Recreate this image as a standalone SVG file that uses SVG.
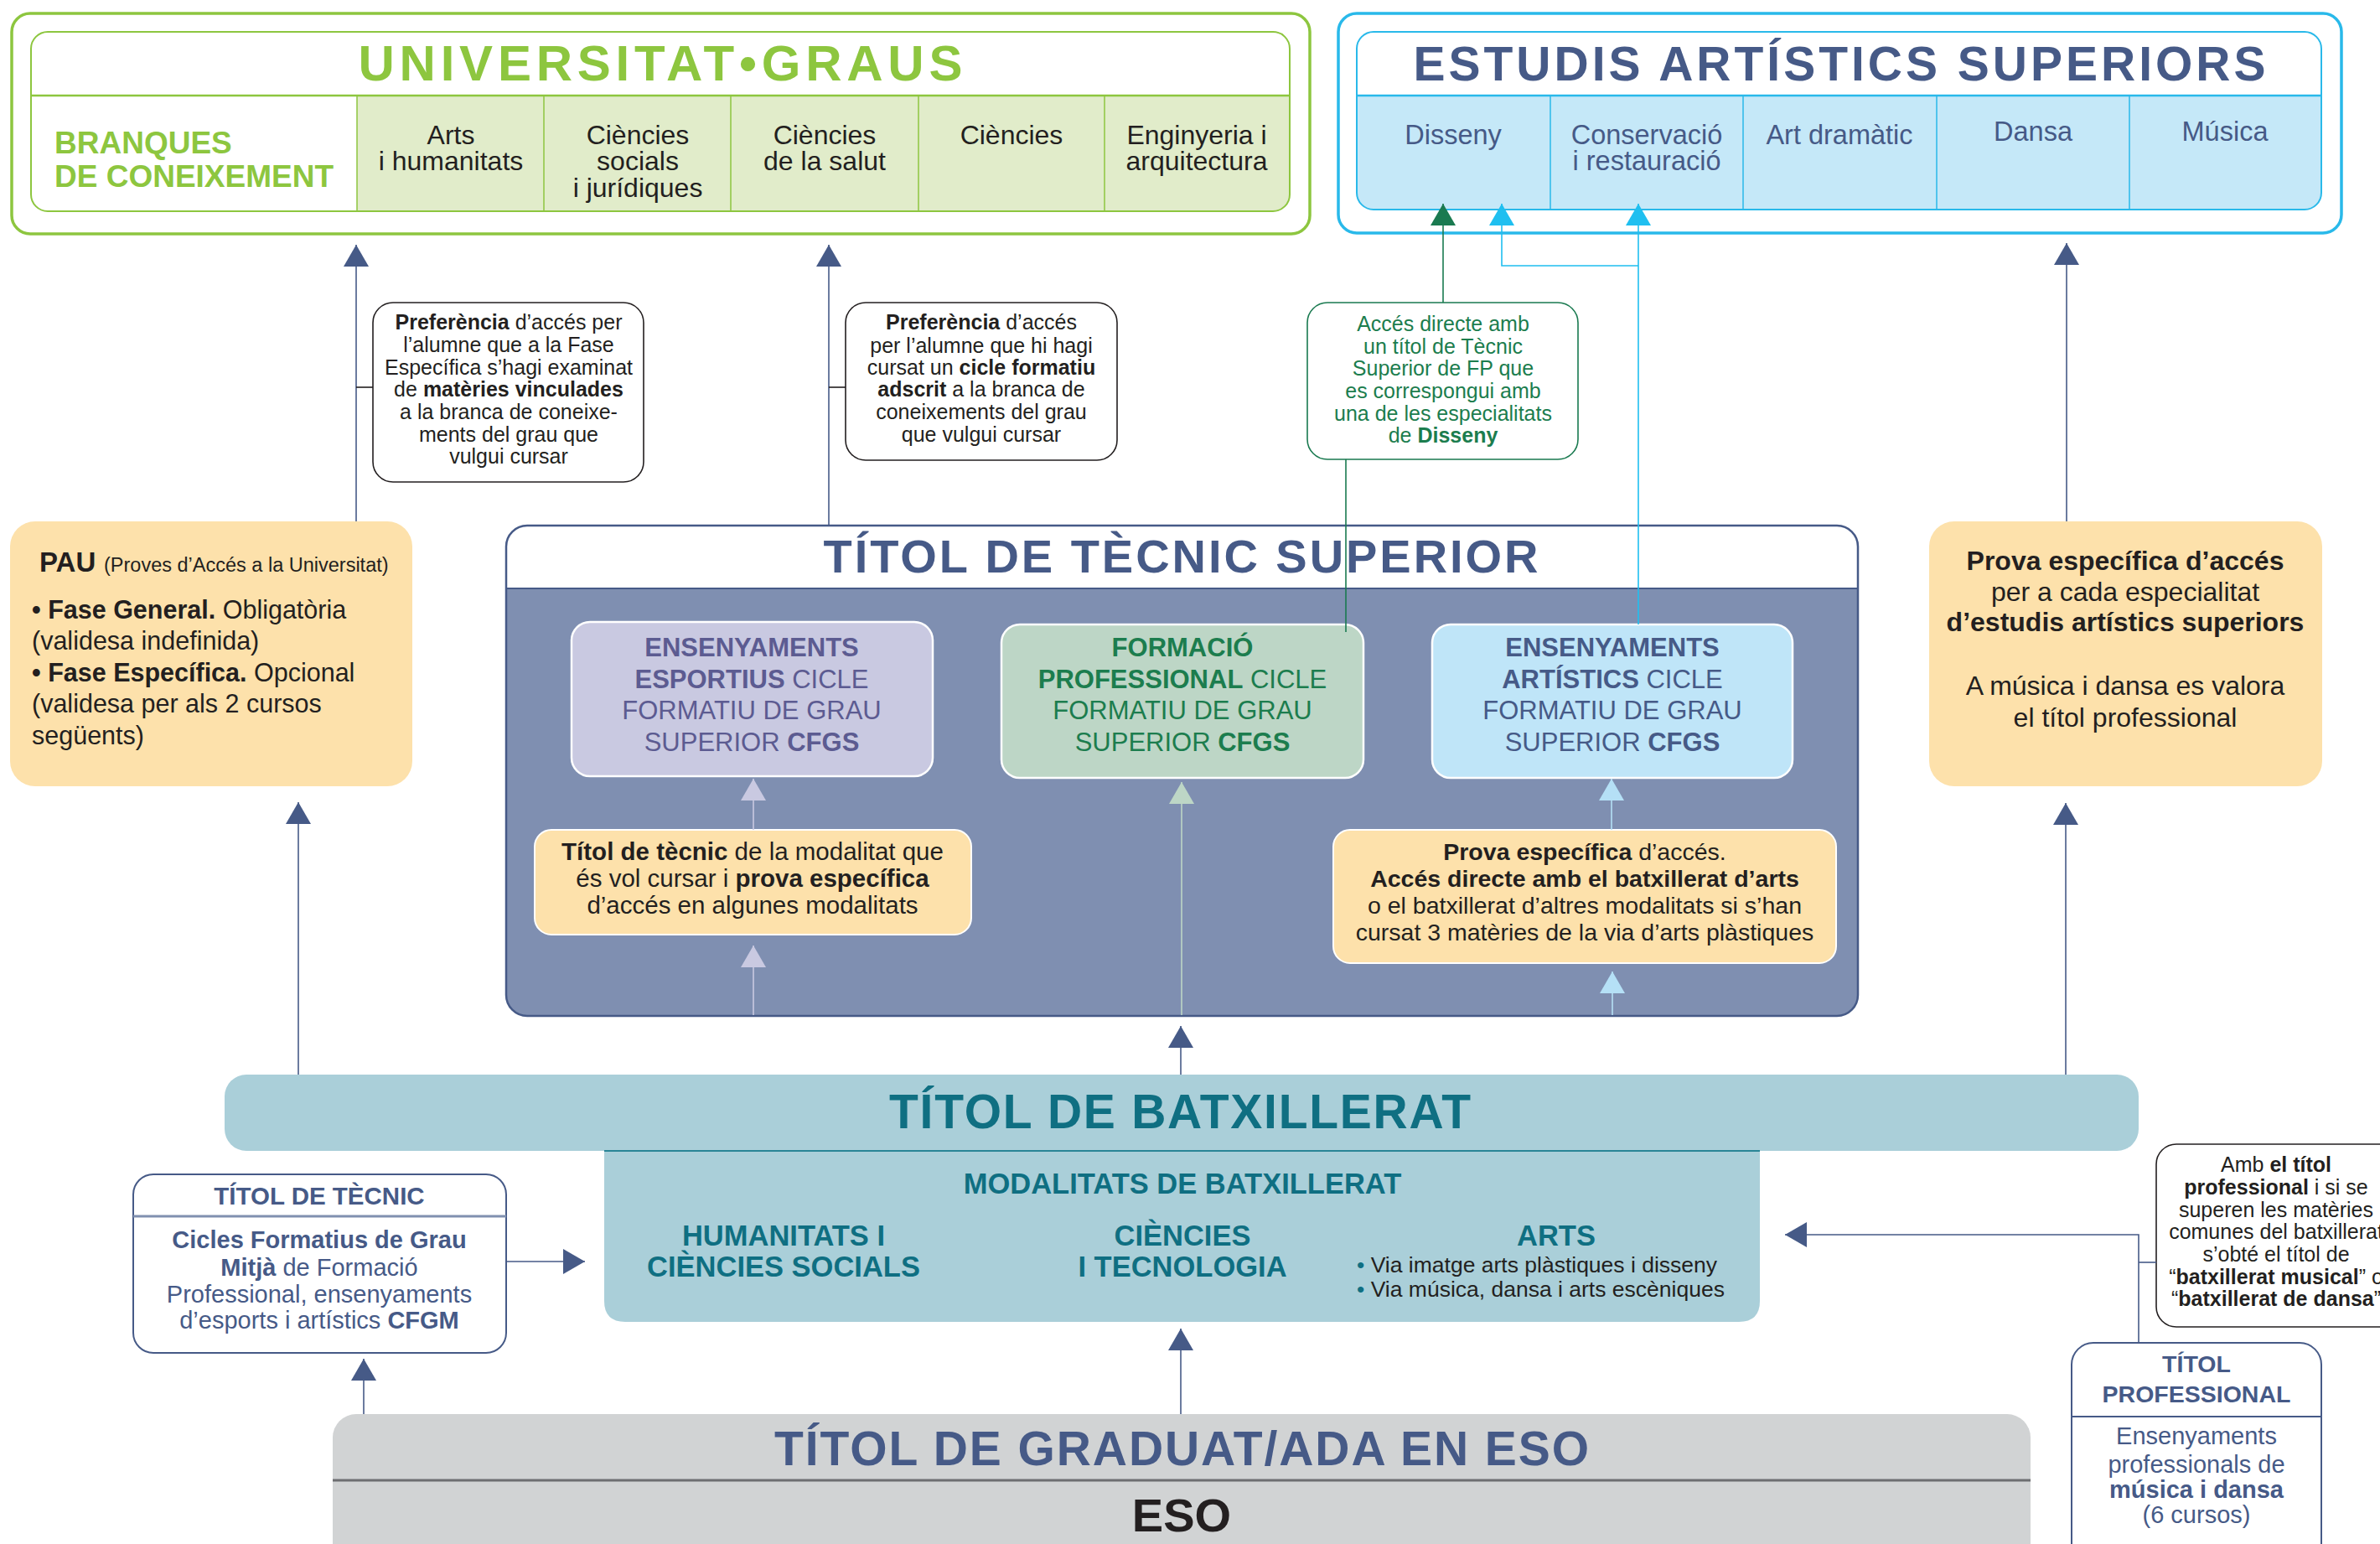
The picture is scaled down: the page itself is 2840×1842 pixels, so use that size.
<svg xmlns="http://www.w3.org/2000/svg" width="2840" height="1842" viewBox="0 0 2840 1842">
<defs>
<style>
text{font-family:"Liberation Sans",Arial,Helvetica,sans-serif;fill:#231f20}
.b{font-weight:bold}
.c{text-anchor:middle}
.slate{fill:#465a87}
.teal{fill:#0f6f82}
.grn{fill:#1c7d4e}
.lg{fill:#8dc63f}
.pur{fill:#5c5b91}
.box{fill:#fff;stroke:#231f20;stroke-width:1.6}
.yel{fill:#fde1ab}
.ln{fill:none;stroke-width:1.6}
</style>
<clipPath id="cu"><rect x="37" y="38" width="1502" height="214" rx="20"/></clipPath>
<clipPath id="ce"><rect x="1619" y="38" width="1151" height="212" rx="20"/></clipPath>
<clipPath id="ct"><rect x="604" y="627" width="1613" height="585" rx="25"/></clipPath>
<marker id="aS" markerUnits="userSpaceOnUse" markerWidth="26" markerHeight="30" viewBox="0 0 26 30" refX="26" refY="15" orient="auto"><path d="M0,0L26,15L0,30Z" fill="#465a87"/></marker>
<marker id="aG" markerUnits="userSpaceOnUse" markerWidth="26" markerHeight="30" viewBox="0 0 26 30" refX="26" refY="15" orient="auto"><path d="M0,0L26,15L0,30Z" fill="#1a7a50"/></marker>
<marker id="aC" markerUnits="userSpaceOnUse" markerWidth="26" markerHeight="30" viewBox="0 0 26 30" refX="26" refY="15" orient="auto"><path d="M0,0L26,15L0,30Z" fill="#1fbff0"/></marker>
<marker id="aL" markerUnits="userSpaceOnUse" markerWidth="26" markerHeight="30" viewBox="0 0 26 30" refX="26" refY="15" orient="auto"><path d="M0,0L26,15L0,30Z" fill="#c9c9e1"/></marker>
<marker id="aF" markerUnits="userSpaceOnUse" markerWidth="26" markerHeight="30" viewBox="0 0 26 30" refX="26" refY="15" orient="auto"><path d="M0,0L26,15L0,30Z" fill="#bdd6c6"/></marker>
<marker id="aB" markerUnits="userSpaceOnUse" markerWidth="26" markerHeight="30" viewBox="0 0 26 30" refX="26" refY="15" orient="auto"><path d="M0,0L26,15L0,30Z" fill="#b5e0f6"/></marker>
</defs>
<rect width="2840" height="1842" fill="#fff"/>

<g id="universitat">
<rect x="14" y="16" width="1549" height="263" rx="22" fill="#fff" stroke="#8dc63f" stroke-width="3.5"/>
<rect x="37" y="38" width="1502" height="214" rx="20" fill="#fff"/>
<g clip-path="url(#cu)"><rect x="426" y="114" width="1113" height="138" fill="#e1ecca"/></g>
<rect x="37" y="38" width="1502" height="214" rx="20" fill="none" stroke="#8dc63f" stroke-width="2"/>
<g stroke="#8dc63f" stroke-width="1.5"><line x1="37" y1="114" x2="1539" y2="114" stroke-width="2.5"/><line x1="426" y1="114" x2="426" y2="252"/><line x1="649" y1="114" x2="649" y2="252"/><line x1="872" y1="114" x2="872" y2="252"/><line x1="1096" y1="114" x2="1096" y2="252"/><line x1="1318" y1="114" x2="1318" y2="252"/></g>
<text class="b c lg" x="788" y="96" font-size="60" textLength="721" lengthAdjust="spacing">UNIVERSITAT•GRAUS</text>
<text class="b lg" x="65" y="183" font-size="37">BRANQUES</text>
<text class="b lg" x="65" y="223" font-size="37">DE CONEIXEMENT</text>
<g font-size="32" class="c">
<text class="c" x="538" y="172">Arts</text><text class="c" x="538" y="203">i humanitats</text>
<text class="c" x="761" y="172">Ciències</text><text class="c" x="761" y="203">socials</text><text class="c" x="761" y="235">i jurídiques</text>
<text class="c" x="984" y="172">Ciències</text><text class="c" x="984" y="203">de la salut</text>
<text class="c" x="1207" y="172">Ciències</text>
<text class="c" x="1428" y="172">Enginyeria i</text><text class="c" x="1428" y="203">arquitectura</text>
</g>
</g>

<g id="estudis-artistics">
<rect x="1597" y="16" width="1197" height="262" rx="22" fill="#fff" stroke="#29b9ea" stroke-width="3.5"/>
<rect x="1619" y="38" width="1151" height="212" rx="20" fill="#fff"/>
<g clip-path="url(#ce)"><rect x="1619" y="114" width="1151" height="136" fill="#c5e8f8"/></g>
<rect x="1619" y="38" width="1151" height="212" rx="20" fill="none" stroke="#29b9ea" stroke-width="2"/>
<g stroke="#29b9ea" stroke-width="1.5"><line x1="1619" y1="114" x2="2770" y2="114" stroke-width="2.5"/><line x1="1850" y1="114" x2="1850" y2="250"/><line x1="2080" y1="114" x2="2080" y2="250"/><line x1="2311" y1="114" x2="2311" y2="250"/><line x1="2541" y1="114" x2="2541" y2="250"/></g>
<text class="b c slate" x="2195" y="96" font-size="57" textLength="1017" lengthAdjust="spacing">ESTUDIS ARTÍSTICS SUPERIORS</text>
<g font-size="32.5">
<text class="c slate" x="1734" y="172">Disseny</text>
<text class="c slate" x="1965" y="172">Conservació</text><text class="c slate" x="1965" y="203">i restauració</text>
<text class="c slate" x="2195" y="172">Art dramàtic</text>
<text class="c slate" x="2426" y="168">Dansa</text>
<text class="c slate" x="2655" y="168">Música</text>
</g>
</g>

<g id="preferencia-1">
<rect class="box" x="445" y="361" width="323" height="214" rx="24"/>
<g font-size="25">
<text class="c" x="607" y="393"><tspan class="b">Preferència</tspan> d’accés per</text>
<text class="c" x="607" y="420">l’alumne que a la Fase</text>
<text class="c" x="607" y="447">Específica s’hagi examinat</text>
<text class="c" x="607" y="473">de <tspan class="b">matèries vinculades</tspan></text>
<text class="c" x="607" y="500">a la branca de coneixe-</text>
<text class="c" x="607" y="527">ments del grau que</text>
<text class="c" x="607" y="553">vulgui cursar</text>
</g>
</g>

<g id="preferencia-2">
<rect class="box" x="1009" y="361" width="324" height="188" rx="24"/>
<g font-size="25">
<text class="c" x="1171" y="393"><tspan class="b">Preferència</tspan> d’accés</text>
<text class="c" x="1171" y="421">per l’alumne que hi hagi</text>
<text class="c" x="1171" y="447">cursat un <tspan class="b">cicle formatiu</tspan></text>
<text class="c" x="1171" y="473"><tspan class="b">adscrit</tspan> a la branca de</text>
<text class="c" x="1171" y="500">coneixements del grau</text>
<text class="c" x="1171" y="527">que vulgui cursar</text>
</g>
</g>

<g id="acces-disseny">
<rect x="1560" y="361" width="323" height="187" rx="24" fill="#fff" stroke="#1a7a50" stroke-width="1.6"/>
<g font-size="25">
<text class="c grn" x="1722" y="395">Accés directe amb</text>
<text class="c grn" x="1722" y="422">un títol de Tècnic</text>
<text class="c grn" x="1722" y="448">Superior de FP que</text>
<text class="c grn" x="1722" y="475">es correspongui amb</text>
<text class="c grn" x="1722" y="502">una de les especialitats</text>
<text class="c grn" x="1722" y="528">de <tspan class="b">Disseny</tspan></text>
</g>
</g>

<g id="pau">
<rect class="yel" x="12" y="622" width="480" height="316" rx="30"/>
<text x="47" y="682" font-size="33" class="b">PAU</text>
<text x="124" y="682" font-size="23.5">(Proves d’Accés a la Universitat)</text>
<g font-size="30.5">
<text x="38" y="738"><tspan class="b">• Fase General.</tspan> Obligatòria</text>
<text x="38" y="775">(validesa indefinida)</text>
<text x="38" y="813"><tspan class="b">• Fase Específica.</tspan> Opcional</text>
<text x="38" y="850">(validesa per als 2 cursos</text>
<text x="38" y="888">següents)</text>
</g>
</g>

<g id="prova-especifica">
<rect class="yel" x="2302" y="622" width="469" height="316" rx="30"/>
<g font-size="32">
<text class="c b" x="2536" y="680">Prova específica d’accés</text>
<text class="c" x="2536" y="717">per a cada especialitat</text>
<text class="c b" x="2536" y="753">d’estudis artístics superiors</text>
<text class="c" x="2536" y="829">A música i dansa es valora</text>
<text class="c" x="2536" y="867">el títol professional</text>
</g>
</g>

<g id="titol-tecnic-superior">
<rect x="604" y="627" width="1613" height="585" rx="25" fill="#fff"/>
<g clip-path="url(#ct)"><rect x="604" y="702" width="1613" height="510" fill="#7f8fb1"/></g>
<line x1="604" y1="702" x2="2217" y2="702" stroke="#465a87" stroke-width="2"/>
<rect x="604" y="627" width="1613" height="585" rx="25" fill="none" stroke="#465a87" stroke-width="2.5"/>
<text class="b c slate" x="1409" y="683" font-size="56" textLength="853" lengthAdjust="spacing">TÍTOL DE TÈCNIC SUPERIOR</text>
</g>

<g id="ensenyaments-esportius">
<rect x="682" y="742" width="431" height="184" rx="22" fill="#c9c9e1" stroke="#fff" stroke-width="2.5"/>
<g font-size="31">
<text class="c pur b" x="897" y="783">ENSENYAMENTS</text>
<text class="c pur" x="897" y="821"><tspan class="b">ESPORTIUS</tspan> CICLE</text>
<text class="c pur" x="897" y="858">FORMATIU DE GRAU</text>
<text class="c pur" x="897" y="896">SUPERIOR <tspan class="b">CFGS</tspan></text>
</g>
</g>

<g id="formacio-professional">
<rect x="1195" y="745" width="432" height="183" rx="22" fill="#bdd6c6" stroke="#fff" stroke-width="2.5"/>
<g font-size="31">
<text class="c grn b" x="1411" y="783">FORMACIÓ</text>
<text class="c grn" x="1411" y="821"><tspan class="b">PROFESSIONAL</tspan> CICLE</text>
<text class="c grn" x="1411" y="858">FORMATIU DE GRAU</text>
<text class="c grn" x="1411" y="896">SUPERIOR <tspan class="b">CFGS</tspan></text>
</g>
</g>

<g id="ensenyaments-artistics">
<rect x="1709" y="745" width="430" height="183" rx="22" fill="#bfe5f8" stroke="#fff" stroke-width="2.5"/>
<g font-size="31">
<text class="c slate b" x="1924" y="783">ENSENYAMENTS</text>
<text class="c slate" x="1924" y="821"><tspan class="b">ARTÍSTICS</tspan> CICLE</text>
<text class="c slate" x="1924" y="858">FORMATIU DE GRAU</text>
<text class="c slate" x="1924" y="896">SUPERIOR <tspan class="b">CFGS</tspan></text>
</g>
</g>

<g id="requisit-esportius">
<rect class="yel" x="638" y="990" width="521" height="125" rx="20" stroke="#fff" stroke-width="2"/>
<g font-size="29.5">
<text class="c" x="898" y="1026"><tspan class="b">Títol de tècnic</tspan> de la modalitat que</text>
<text class="c" x="898" y="1058">és vol cursar i <tspan class="b">prova específica</tspan></text>
<text class="c" x="898" y="1090">d’accés en algunes modalitats</text>
</g>
</g>

<g id="requisit-artistics">
<rect class="yel" x="1591" y="990" width="600" height="159" rx="20" stroke="#fff" stroke-width="2"/>
<g font-size="28.5">
<text class="c" x="1891" y="1026"><tspan class="b">Prova específica</tspan> d’accés.</text>
<text class="c b" x="1891" y="1058">Accés directe amb el batxillerat d’arts</text>
<text class="c" x="1891" y="1090">o el batxillerat d’altres modalitats si s’han</text>
<text class="c" x="1891" y="1122">cursat 3 matèries de la via d’arts plàstiques</text>
</g>
</g>

<g id="batxillerat">
<rect x="268" y="1282" width="2284" height="91" rx="26" fill="#aacfd9"/>
<path d="M721,1360H2100V1552Q2100,1577 2075,1577H746Q721,1577 721,1552Z" fill="#aacfd9"/>
<line x1="721" y1="1373" x2="2100" y2="1373" stroke="#2a8596" stroke-width="2"/>
<text class="b c teal" x="1408" y="1346" font-size="57" textLength="694" lengthAdjust="spacing">TÍTOL DE BATXILLERAT</text>
<text class="b c teal" x="1411" y="1424" font-size="34.5">MODALITATS DE BATXILLERAT</text>
<g font-size="34.5" class="b">
<text class="c teal b" x="935" y="1486">HUMANITATS I</text>
<text class="c teal b" x="935" y="1523">CIÈNCIES SOCIALS</text>
<text class="c teal b" x="1411" y="1486">CIÈNCIES</text>
<text class="c teal b" x="1411" y="1523">I TECNOLOGIA</text>
<text class="c teal b" x="1857" y="1486">ARTS</text>
</g>
<g font-size="26.5">
<text x="1619" y="1518"><tspan class="teal">•</tspan> Via imatge arts plàstiques i disseny</text>
<text x="1619" y="1547"><tspan class="teal">•</tspan> Via música, dansa i arts escèniques</text>
</g>
</g>

<g id="titol-tecnic">
<rect x="159" y="1401" width="445" height="213" rx="24" fill="#fff" stroke="#465a87" stroke-width="2"/>
<line x1="159" y1="1451" x2="604" y2="1451" stroke="#8090b0" stroke-width="3"/>
<text class="b c slate" x="381" y="1437" font-size="29.5">TÍTOL DE TÈCNIC</text>
<g font-size="29">
<text class="c slate b" x="381" y="1489">Cicles Formatius de Grau</text>
<text class="c slate" x="381" y="1522"><tspan class="b">Mitjà</tspan> de Formació</text>
<text class="c slate" x="381" y="1554">Professional, ensenyaments</text>
<text class="c slate" x="381" y="1585">d’esports i artístics <tspan class="b">CFGM</tspan></text>
</g>
</g>

<g id="eso">
<rect x="397" y="1687" width="2026" height="220" rx="28" fill="#d1d3d4"/>
<line x1="397" y1="1766" x2="2423" y2="1766" stroke="#6d6e71" stroke-width="3"/>
<text class="b c slate" x="1410" y="1748" font-size="57" textLength="972" lengthAdjust="spacing">TÍTOL DE GRADUAT/ADA EN ESO</text>
<text class="b c" x="1410" y="1827" font-size="56">ESO</text>
</g>

<g id="titol-professional">
<rect x="2472" y="1602" width="298" height="290" rx="26" fill="#fff" stroke="#465a87" stroke-width="2"/>
<line x1="2472" y1="1690" x2="2770" y2="1690" stroke="#465a87" stroke-width="2"/>
<text class="b c slate" x="2621" y="1637" font-size="28.5">TÍTOL</text>
<text class="b c slate" x="2621" y="1673" font-size="28.5">PROFESSIONAL</text>
<g font-size="29">
<text class="c slate" x="2621" y="1723">Ensenyaments</text>
<text class="c slate" x="2621" y="1757">professionals de</text>
<text class="c slate b" x="2621" y="1787">música i dansa</text>
<text class="c slate" x="2621" y="1817">(6 cursos)</text>
</g>
</g>

<g id="batxillerat-musical">
<rect class="box" x="2573" y="1365" width="300" height="218" rx="24"/>
<g font-size="25">
<text class="c" x="2716" y="1398">Amb <tspan class="b">el títol</tspan></text>
<text class="c" x="2716" y="1425"><tspan class="b">professional</tspan> i si se</text>
<text class="c" x="2716" y="1452">superen les matèries</text>
<text class="c" x="2716" y="1478">comunes del batxillerat</text>
<text class="c" x="2716" y="1505">s’obté el títol de</text>
<text class="c" x="2716" y="1532">“<tspan class="b">batxillerat musical</tspan>” o</text>
<text class="c" x="2716" y="1558">“<tspan class="b">batxillerat de dansa</tspan>”</text>
</g>
</g>

<g id="connectors">
<g stroke="#465a87" class="ln">
<line x1="425" y1="622" x2="425" y2="292" marker-end="url(#aS)"/>
<line x1="425" y1="462" x2="445" y2="462" stroke="#231f20"/>
<line x1="989" y1="627" x2="989" y2="292" marker-end="url(#aS)"/>
<line x1="989" y1="462" x2="1009" y2="462" stroke="#231f20"/>
<line x1="356" y1="1282" x2="356" y2="957" marker-end="url(#aS)"/>
<line x1="1409" y1="1282" x2="1409" y2="1224" marker-end="url(#aS)"/>
<line x1="2465" y1="1282" x2="2465" y2="958" marker-end="url(#aS)"/>
<line x1="2466" y1="622" x2="2466" y2="290" marker-end="url(#aS)"/>
<line x1="434" y1="1687" x2="434" y2="1621" marker-end="url(#aS)"/>
<line x1="1409" y1="1687" x2="1409" y2="1585" marker-end="url(#aS)"/>
<line x1="604" y1="1505" x2="698" y2="1505" marker-end="url(#aS)"/>
<path d="M2552,1602V1473H2130" marker-end="url(#aS)"/>
<line x1="2552" y1="1506" x2="2573" y2="1506"/>
</g>
<g stroke="#1a7a50" class="ln">
<line x1="1606" y1="754" x2="1606" y2="548"/>
<line x1="1722" y1="361" x2="1722" y2="243" marker-end="url(#aG)"/>
</g>
<g stroke="#1fbff0" class="ln">
<line x1="1955" y1="745" x2="1955" y2="243" marker-end="url(#aC)"/>
<path d="M1955,317H1792V243" marker-end="url(#aC)"/>
</g>
<line x1="899" y1="990" x2="899" y2="929" stroke="#c9c9e1" class="ln" marker-end="url(#aL)"/>
<line x1="899" y1="1211" x2="899" y2="1128" stroke="#c9c9e1" class="ln" marker-end="url(#aL)"/>
<line x1="1410" y1="1211" x2="1410" y2="933" stroke="#bdd6c6" class="ln" marker-end="url(#aF)"/>
<line x1="1923" y1="990" x2="1923" y2="929" stroke="#b5e0f6" class="ln" marker-end="url(#aB)"/>
<line x1="1924" y1="1211" x2="1924" y2="1159" stroke="#b5e0f6" class="ln" marker-end="url(#aB)"/>
</g>
</svg>
